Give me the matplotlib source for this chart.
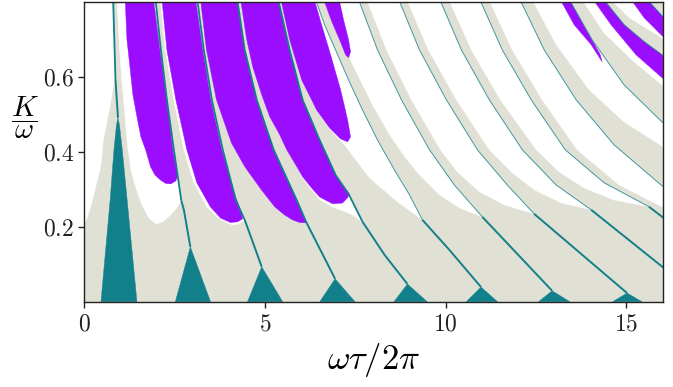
import matplotlib
matplotlib.use("Agg")
import matplotlib.pyplot as plt
from matplotlib.patches import Polygon

plt.rcParams["mathtext.fontset"] = "cm"
plt.rcParams["font.family"] = ["DejaVu Serif"]

GRAY = "#e0e0d5"
TEAL = "#12808a"
PURPLE = "#9a0dff"

# ---------------- teal boundary curves (upper part, lower part) ----------------
T1_up = [(0.793, 0.82), (0.862, 0.591)]
T1_lo = [(0.862, 0.591), (0.931, 0.49)]
T2_up = [(1.953, 0.82), (2.119, 0.671), (2.285, 0.538), (2.478, 0.405), (2.685, 0.269)]
T2_lo = [(2.685, 0.269), (2.754, 0.245), (2.934, 0.146)]
T3_up = [(3.105, 0.82), (3.307, 0.671), (3.528, 0.538), (3.831, 0.405), (4.191, 0.271), (4.439, 0.218)]
T3_lo = [(4.439, 0.218), (4.909, 0.093)]
T4_up = [(4.210, 0.82), (4.439, 0.671), (4.771, 0.538), (5.240, 0.405), (5.876, 0.271), (6.152, 0.210)]
T4_lo = [(6.152, 0.210), (6.939, 0.061)]
T5_up = [(5.331, 0.82), (5.682, 0.671), (6.041, 0.538), (6.511, 0.431), (6.953, 0.338), (7.340, 0.282), (7.699, 0.213)]
T5_lo = [(7.699, 0.213), (8.307, 0.125), (8.942, 0.047)]
T6_up = [(6.345, 0.82), (6.649, 0.738), (6.953, 0.671), (7.312, 0.591), (7.699, 0.511), (8.113, 0.431),
         (8.583, 0.351), (8.997, 0.285), (9.357, 0.218)]
T6_lo = [(9.357, 0.218), (10.102, 0.138), (10.978, 0.039)]
T7_up = [(7.533, 0.82), (8.113, 0.671), (8.776, 0.538), (9.550, 0.405), (10.240, 0.311), (11.014, 0.226)]
T7_lo = [(11.014, 0.226), (12.947, 0.029)]
T8_up = [(8.638, 0.82), (9.274, 0.671), (10.019, 0.538), (10.876, 0.405), (11.705, 0.311), (12.450, 0.234)]
T8_lo = [(12.450, 0.234), (15.019, 0.023)]
T9_up = [(9.771, 0.82), (10.434, 0.671), (11.207, 0.538), (12.119, 0.405), (13.058, 0.311), (14.025, 0.245)]
T9_lo = [(14.025, 0.245), (17.008, 0.015)]
T10_up = [(10.876, 0.82), (11.566, 0.671), (12.367, 0.538), (13.306, 0.405), (14.384, 0.317), (15.627, 0.253)]
T10_lo = [(15.627, 0.253), (17.008, 0.151)]
T11 = [(11.980, 0.82), (12.727, 0.671), (13.610, 0.538), (14.660, 0.418), (15.986, 0.309), (17.008, 0.245)]
T12 = [(13.334, 0.82), (14.053, 0.698), (14.936, 0.578), (15.986, 0.479), (17.008, 0.405)]
T13 = [(14.246, 0.82), (14.936, 0.738), (15.489, 0.693), (15.986, 0.658), (17.008, 0.591)]
T14 = [(15.433, 0.82), (15.986, 0.762), (17.008, 0.685)]

# ---------------- right edges of the grey bands (left / lower edge of white tongues) ----------------
W0 = [(-0.1, 0.82), (0.793, 0.82), (0.862, 0.591), (0.801, 0.573), (0.710, 0.519), (0.525, 0.431),
      (0.453, 0.359), (0.315, 0.306), (0.177, 0.253), (0.039, 0.213), (-0.1, 0.21)]
E1 = [(0.903, 0.82), (0.959, 0.698), (1.033, 0.591), (1.124, 0.498), (1.193, 0.418), (1.290, 0.351),
      (1.401, 0.311), (1.594, 0.258), (1.787, 0.223), (1.981, 0.207), (2.174, 0.213), (2.367, 0.229),
      (2.533, 0.247), (2.685, 0.269)]
E2 = [(2.091, 0.82), (2.243, 0.671), (2.478, 0.538), (2.754, 0.405), (3.030, 0.317), (3.390, 0.253),
      (3.666, 0.226), (3.942, 0.210), (4.094, 0.205), (4.246, 0.206), (4.384, 0.214), (4.439, 0.218)]
E4 = [(4.301, 0.82), (4.494, 0.698), (4.660, 0.626), (4.909, 0.551), (5.130, 0.493), (5.406, 0.445),
      (5.599, 0.405), (5.848, 0.365), (6.041, 0.330), (6.290, 0.298), (6.511, 0.272), (6.870, 0.252),
      (7.146, 0.243), (7.400, 0.232), (7.699, 0.213)]
E5 = [(5.406, 0.82), (5.682, 0.698), (6.014, 0.591), (6.428, 0.511), (6.787, 0.460), (7.202, 0.418),
      (7.892, 0.330), (8.666, 0.266), (9.357, 0.218)]
E6 = [(6.566, 0.82), (6.953, 0.725), (7.229, 0.671), (7.561, 0.605), (7.975, 0.525), (8.445, 0.445),
      (8.832, 0.391), (9.274, 0.338), (9.826, 0.285), (10.378, 0.250), (11.014, 0.226)]
E7 = [(7.754, 0.82), (8.362, 0.671), (9.052, 0.538), (9.854, 0.405), (10.323, 0.346), (10.931, 0.293),
      (11.622, 0.258), (12.450, 0.234)]
E8 = [(8.859, 0.82), (9.522, 0.671), (10.296, 0.538), (11.207, 0.405), (11.815, 0.346), (12.450, 0.298),
      (13.196, 0.263), (14.025, 0.245)]
E9 = [(10.019, 0.82), (10.710, 0.671), (11.511, 0.538), (12.506, 0.405), (13.141, 0.346), (13.831, 0.303),
      (14.660, 0.271), (15.627, 0.253)]
E10 = [(11.124, 0.82), (11.842, 0.671), (12.671, 0.538), (13.638, 0.405), (14.798, 0.311), (15.986, 0.253),
       (17.008, 0.213)]
E11 = [(12.312, 0.82), (13.058, 0.685), (13.970, 0.565), (14.936, 0.479), (15.986, 0.415), (17.008, 0.357)]
E12 = [(13.666, 0.82), (14.384, 0.716), (15.213, 0.639), (15.986, 0.578), (17.008, 0.511)]
E13 = [(14.412, 0.82), (15.075, 0.757), (15.986, 0.703), (17.008, 0.639)]

# ---------------- purple regions ----------------
P1 = [(1.124, 0.82), (1.180, 0.698), (1.262, 0.626), (1.345, 0.551), (1.456, 0.493), (1.566, 0.439),
      (1.696, 0.405), (1.834, 0.359), (1.953, 0.338), (2.110, 0.324), (2.257, 0.315), (2.395, 0.314),
      (2.533, 0.322), (2.588, 0.338), (2.533, 0.365), (2.450, 0.405), (2.285, 0.538), (2.091, 0.671),
      (1.898, 0.82)]
P2 = [(2.133, 0.82), (2.285, 0.671), (2.533, 0.538), (2.837, 0.405), (3.113, 0.317), (3.486, 0.253),
      (3.768, 0.223), (4.044, 0.211), (4.246, 0.213), (4.384, 0.221), (4.301, 0.250), (4.191, 0.277),
      (3.804, 0.405), (3.500, 0.538), (3.279, 0.671), (3.058, 0.82)]
P3 = [(3.196, 0.82), (3.381, 0.671), (3.657, 0.538), (4.072, 0.423), (4.439, 0.360), (4.901, 0.298),
      (5.268, 0.253), (5.544, 0.231), (5.765, 0.218), (5.959, 0.211), (6.152, 0.210), (5.876, 0.271),
      (5.240, 0.405), (4.771, 0.538), (4.439, 0.671), (4.210, 0.82)]
P4 = [(4.301, 0.82), (4.494, 0.698), (4.660, 0.626), (4.909, 0.551), (5.130, 0.493), (5.406, 0.445),
      (5.599, 0.405), (5.848, 0.365), (6.041, 0.333), (6.290, 0.303), (6.511, 0.279), (6.870, 0.261),
      (7.146, 0.263), (7.285, 0.277), (7.340, 0.287), (6.953, 0.338), (6.511, 0.431), (6.041, 0.538),
      (5.682, 0.671), (5.331, 0.82)]
P5 = [(5.406, 0.82), (5.682, 0.698), (6.014, 0.591), (6.428, 0.511), (6.787, 0.463), (7.091, 0.434),
      (7.285, 0.426), (7.367, 0.439), (7.285, 0.485), (7.091, 0.565), (6.815, 0.658), (6.566, 0.738),
      (6.320, 0.82)]
P6 = [(6.566, 0.82), (6.850, 0.746), (7.100, 0.690), (7.229, 0.658), (7.312, 0.650), (7.367, 0.666),
      (7.312, 0.698), (7.174, 0.751), (7.017, 0.82)]
P11 = [(13.086, 0.82), (13.555, 0.738), (14.025, 0.685), (14.33, 0.639), (14.27, 0.660), (13.88, 0.725),
       (13.334, 0.82)]
P12 = [(13.970, 0.82), (14.577, 0.738), (15.267, 0.658), (15.986, 0.597), (17.008, 0.525), (17.008, 0.591),
       (15.986, 0.658), (15.489, 0.693), (14.936, 0.738), (14.246, 0.82)]
P13 = [(15.019, 0.82), (15.489, 0.757), (15.986, 0.709), (17.008, 0.631), (17.008, 0.685), (15.986, 0.762),
       (15.433, 0.82)]

# ---------------- teal wedges on the axis ----------------
TRI1 = [(0.461, 0.0), (0.715, 0.271), (0.820, 0.405), (0.889, 0.471), (0.931, 0.49), (0.972, 0.471),
        (1.050, 0.405), (1.185, 0.271), (1.456, 0.0)]
TRI2 = [(2.519, 0.0), (2.934, 0.146), (3.492, 0.0)]
TRI3 = [(4.517, 0.0), (4.909, 0.093), (5.489, 0.0)]
TRI4 = [(6.517, 0.0), (6.939, 0.061), (7.489, 0.0)]
TRI5 = [(8.569, 0.0), (8.942, 0.047), (9.489, 0.0)]
TRI6 = [(10.569, 0.0), (10.978, 0.039), (11.434, 0.0)]
TRI7 = [(12.569, 0.0), (12.947, 0.029), (13.434, 0.0)]
TRI8 = [(14.622, 0.0), (15.019, 0.023), (15.431, 0.0)]

x_ticks = [0, 5, 10, 15]
y_ticks = [0.2, 0.4, 0.6]

# white tongues = band edge + next teal curve (reversed)
whites = [
    W0,
    E1 + T2_up[::-1],
    E2 + T3_up[::-1],
    E4 + T5_up[::-1],
    E5 + T6_up[::-1],
    E6 + T7_up[::-1],
    E7 + T8_up[::-1],
    E8 + T9_up[::-1],
    E9 + T10_up[::-1],
    E10 + T11[::-1],
    E11 + T12[::-1],
    E12 + T13[::-1],
    E13 + T14[::-1],
]
purples = [P1, P2, P3, P4, P5, P6, P11, P12, P13]
triangles = [TRI1, TRI2, TRI3, TRI4, TRI5, TRI6, TRI7, TRI8]

fig = plt.figure(figsize=(6.73, 3.87), dpi=100)
ax = fig.add_axes([0.1253, 0.2204, 0.8591, 0.7757])
ax.set_facecolor(GRAY)

for poly in whites:
    ax.add_patch(Polygon(poly, closed=True, fc="white", ec="white", lw=0.3, zorder=1))
for poly in purples:
    ax.add_patch(Polygon(poly, closed=True, fc=PURPLE, ec=PURPLE, lw=0.3, zorder=2))
for poly in triangles:
    ax.add_patch(Polygon(poly, closed=True, fc=TEAL, ec=TEAL, lw=0.3, zorder=3))

thick_up = [T1_up, T2_up, T3_up, T4_up, T5_up]
thin_up = [T6_up, T7_up, T8_up, T9_up, T10_up, T11, T12, T13, T14]
lows = [T1_lo, T2_lo, T3_lo, T4_lo, T5_lo, T6_lo, T7_lo, T8_lo, T9_lo, T10_lo]
for ln in thick_up:
    xs, ys = zip(*ln)
    ax.plot(xs, ys, color=TEAL, lw=1.3, zorder=4, solid_capstyle="butt")
for ln in thin_up:
    xs, ys = zip(*ln)
    ax.plot(xs, ys, color=TEAL, lw=0.7, alpha=0.8, zorder=4, solid_capstyle="butt")
for ln in lows:
    xs, ys = zip(*ln)
    ax.plot(xs, ys, color=TEAL, lw=1.4, zorder=4, solid_capstyle="butt")

ax.set_xlim(0, 16)
ax.set_ylim(0, 0.8)
ax.set_xticks(x_ticks, labels=[rf"${t}$" for t in x_ticks])
ax.set_yticks(y_ticks, labels=[rf"${t}$" for t in y_ticks])
ax.tick_params(direction="out", length=4, width=1, labelsize=17, colors="#222222")
for sp in ax.spines.values():
    sp.set_color("#222222")
    sp.set_linewidth(1.0)
    sp.set_zorder(6)

ax.set_xlabel(r"$\omega\tau/2\pi$", fontsize=25, labelpad=4)
ax.set_ylabel(r"$\dfrac{K}{\omega}$", fontsize=21, rotation=0, va="center", ha="center")
ax.yaxis.set_label_coords(-0.102, 0.612)

fig.savefig("out.png", dpi=100)
